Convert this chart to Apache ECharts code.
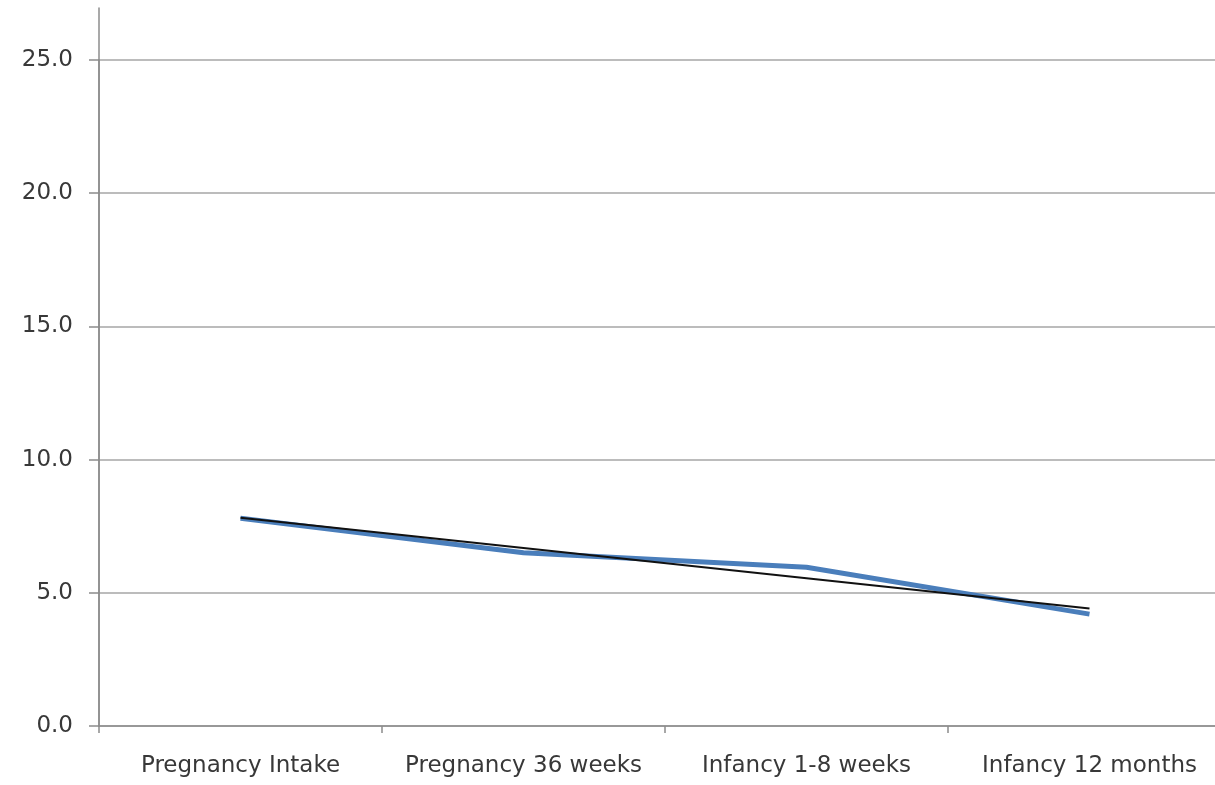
<!DOCTYPE html>
<html><head><meta charset="utf-8">
<script src="https://cdn.jsdelivr.net/npm/echarts@6/dist/echarts.min.js"></script>
<style>html,body{margin:0;padding:0;background:#fff;overflow:hidden}#c{width:1231px;height:785px}</style>
</head><body><div id="c"></div>
<script>
const categories = ['Pregnancy Intake', 'Pregnancy 36 weeks', 'Infancy 1-8 weeks', 'Infancy 12 months'];
const values = [7.8, 6.5, 5.96, 4.2];
const trend = [7.82, 6.68, 5.55, 4.41];
const yTicks = [0, 5, 10, 15, 20, 25];

const chart = echarts.init(document.getElementById('c'));
const font = '"DejaVu Sans", sans-serif';
chart.setOption({
  animation: false,
  grid: [
    {left: 99, right: 0, top: 60, bottom: 59},
    {left: 99, right: 0, top: 8, bottom: 59}
  ],
  xAxis: [{
    type: 'category', data: categories, gridIndex: 0,
    boundaryGap: true,
    axisLine: {lineStyle: {color: '#8c8c8c', width: 1.5}},
    axisTick: {show: true, length: 7, lineStyle: {color: '#8c8c8c', width: 1.5}},
    axisLabel: {color: '#383838', fontSize: 23, fontFamily: font, margin: 29, interval: 0}
  }, {
    type: 'category', data: categories, gridIndex: 1, show: false
  }],
  yAxis: [{
    type: 'value', gridIndex: 0, min: 0, max: 25, interval: 5,
    axisLine: {show: true, lineStyle: {color: '#8c8c8c', width: 1.5}},
    axisTick: {show: true, length: 10, lineStyle: {color: '#8c8c8c', width: 1.5}},
    splitLine: {show: true, lineStyle: {color: '#a6a6a6', width: 1.5}},
    axisLabel: {color: '#383838', fontSize: 23, fontFamily: font, margin: 26,
      formatter: v => yTicks.includes(v) ? v.toFixed(1) : ''}
  }, {
    type: 'value', gridIndex: 1, min: 0, max: 27,
    axisLine: {show: true, lineStyle: {color: '#8c8c8c', width: 1.5}},
    axisTick: {show: false}, splitLine: {show: false}, axisLabel: {show: false}
  }],
  series: [{
    type: 'line', data: values, xAxisIndex: 0, yAxisIndex: 0,
    symbol: 'none', lineStyle: {color: '#4a7ebb', width: 5}
  }, {
    type: 'line', data: trend, xAxisIndex: 0, yAxisIndex: 0,
    symbol: 'none', lineStyle: {color: '#111111', width: 2}
  }]
});
</script></body></html>
